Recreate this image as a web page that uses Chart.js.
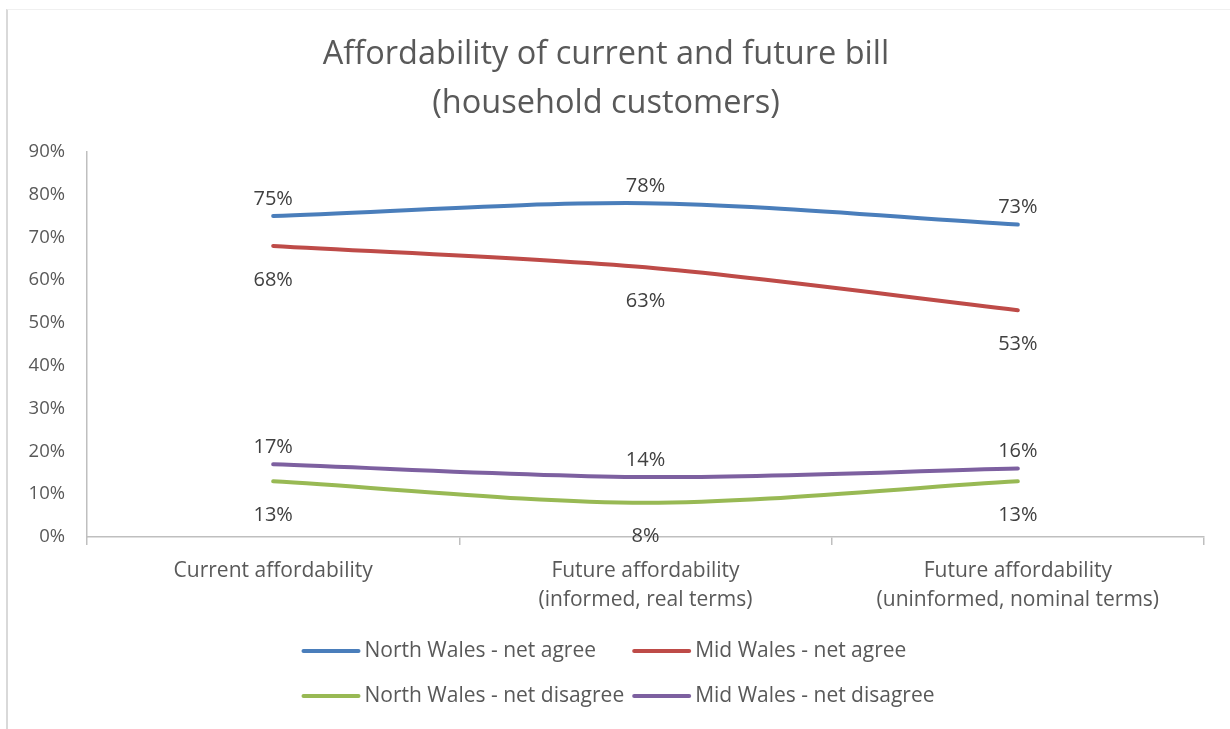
<!DOCTYPE html>
<html>
<head>
<meta charset="utf-8">
<script src="https://cdn.jsdelivr.net/npm/chart.js@4.4.1/dist/chart.umd.min.js"></script>
<style>
  html, body { margin: 0; padding: 0; background: #fff; }
  #frame {
    position: absolute; left: 6px; top: 9px; width: 1224px; height: 720px;
    border-left: 2px solid #d9d9d9; border-top: 1px solid #f0f0f0;
  }
  #wrap { position: absolute; left: 8px; top: 10px; width: 1222px; height: 719px; }
</style>
</head>
<body>
<div id="frame"></div>
<div id="wrap"><canvas id="myChart"></canvas></div>
<script>
// chart data
const categories = [
  'Current affordability',
  ['Future affordability', '(informed, real terms)'],
  ['Future affordability', '(uninformed, nominal terms)']
];
const northAgree = [75, 78, 73];
const midAgree = [68, 63, 53];
const northDisagree = [13, 8, 13];
const midDisagree = [17, 14, 16];
const yTicks = [0, 10, 20, 30, 40, 50, 60, 70, 80, 90];

const FONT = '"Open Sans", Lato, sans-serif';
const GREY = '#595959';

// value labels above or below each point
const pointLabels = {
  id: 'pointLabels',
  afterDatasetsDraw(chart) {
    const ctx = chart.ctx;
    ctx.save();
    ctx.font = '20px ' + FONT;
    ctx.fillStyle = '#404040';
    ctx.textAlign = 'center';
    ctx.textBaseline = 'middle';
    chart.data.datasets.forEach((ds, i) => {
      const meta = chart.getDatasetMeta(i);
      meta.data.forEach((pt, j) => {
        const dy = ds.labelPos === 'above' ? -17 : 34;
        ctx.fillText(ds.data[j] + '%', pt.x, pt.y + dy);
      });
    });
    ctx.restore();
  }
};

// two-column legend under the axis
const gridLegend = {
  id: 'gridLegend',
  afterDraw(chart) {
    const ctx = chart.ctx;
    const sets = chart.data.datasets;
    ctx.save();
    ctx.font = '21px ' + FONT;
    const lineLen = 55, gap = 6;
    let w1 = 0, w2 = 0;
    sets.forEach((ds, i) => {
      const w = ctx.measureText(ds.label).width;
      if (i % 2 === 0) w1 = Math.max(w1, w); else w2 = Math.max(w2, w);
    });
    const colW = lineLen + gap + w1 + 10;
    const total = colW + lineLen + gap + w2;
    const startX = (chart.width - total) / 2;
    const rows = [641, 686];
    sets.forEach((ds, i) => {
      const x = startX + (i % 2) * colW;
      const y = rows[Math.floor(i / 2)];
      ctx.strokeStyle = ds.borderColor;
      ctx.lineWidth = 4;
      ctx.lineCap = 'round';
      ctx.beginPath();
      ctx.moveTo(x, y);
      ctx.lineTo(x + lineLen, y);
      ctx.stroke();
      ctx.fillStyle = GREY;
      ctx.textAlign = 'left';
      ctx.textBaseline = 'middle';
      ctx.fillText(ds.label, x + lineLen + gap, y);
    });
    ctx.restore();
  }
};

const ctx = document.getElementById('myChart').getContext('2d');

new Chart(ctx, {
  type: 'line',
  data: {
    labels: categories,
    datasets: [
      {
        label: 'North Wales - net agree',
        data: northAgree,
        borderColor: '#4a7ebb',
        labelPos: 'above'
      },
      {
        label: 'Mid Wales - net agree',
        data: midAgree,
        borderColor: '#be4b48',
        labelPos: 'below'
      },
      {
        label: 'North Wales - net disagree',
        data: northDisagree,
        borderColor: '#98b954',
        labelPos: 'below'
      },
      {
        label: 'Mid Wales - net disagree',
        data: midDisagree,
        borderColor: '#7d60a0',
        labelPos: 'above'
      }
    ]
  },
  options: {
    responsive: true,
    maintainAspectRatio: false,
    animation: false,
    layout: { padding: { left: 0, right: 26, top: 0, bottom: 0 } },
    elements: {
      line: { borderWidth: 4, tension: 0.3, borderCapStyle: 'round', fill: false },
      point: { radius: 0, hoverRadius: 0 }
    },
    plugins: {
      legend: { display: false },
      tooltip: { enabled: false },
      title: {
        display: true,
        text: ['Affordability of current and future bill', '(household customers)'],
        color: GREY,
        font: { family: FONT, size: 32.5, weight: 'normal', lineHeight: 1.52 },
        padding: { top: 20, bottom: 23 }
      }
    },
    scales: {
      y: {
        min: 0,
        max: 90,
        afterFit(scale) { scale.width = 79; },
        afterBuildTicks(scale) { scale.ticks = yTicks.map(v => ({ value: v })); },
        ticks: {
          color: GREY,
          padding: 22,
          font: { family: FONT, size: 18.5 },
          callback: v => v + '%'
        },
        grid: { display: false, drawTicks: false },
        border: { display: true, color: '#bfbfbf', width: 1.5 }
      },
      x: {
        offset: true,
        afterFit(scale) { scale.height = 192; },
        ticks: {
          color: GREY,
          padding: 12,
          maxRotation: 0,
          autoSkip: false,
          font: { family: FONT, size: 21, lineHeight: 1.35 }
        },
        grid: {
          offset: true,
          drawOnChartArea: false,
          drawTicks: true,
          tickLength: 8,
          color: '#bfbfbf',
          lineWidth: 1.5
        },
        border: { display: true, color: '#bfbfbf', width: 1.5 }
      }
    }
  },
  plugins: [pointLabels, gridLegend]
});
</script>
</body>
</html>
